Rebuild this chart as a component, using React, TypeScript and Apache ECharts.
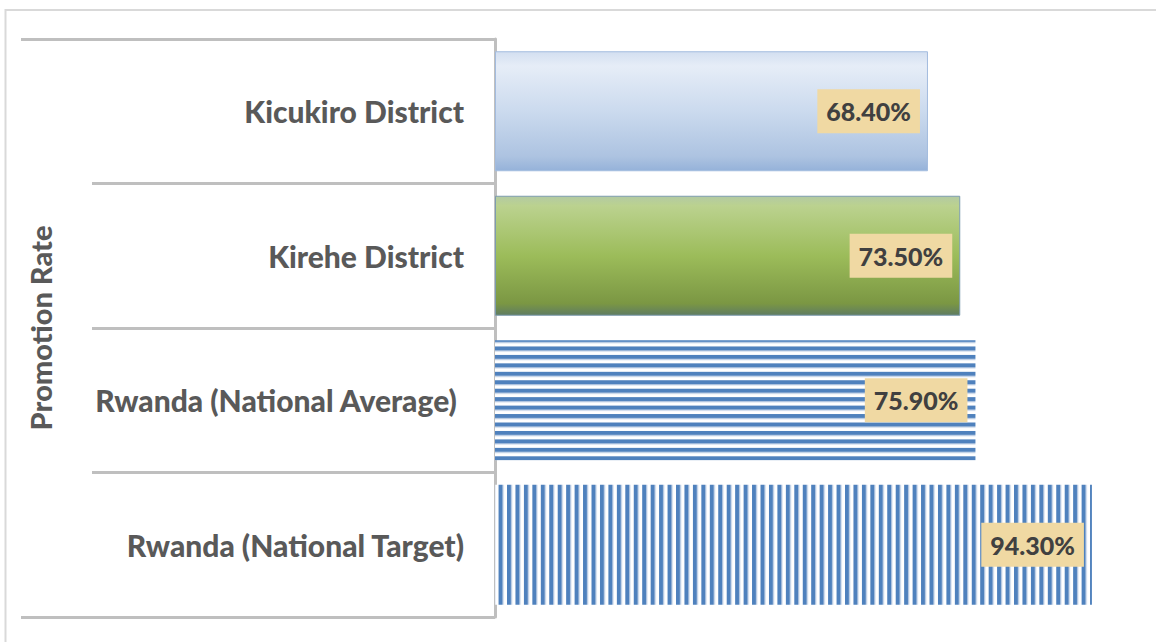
import React, { useEffect, useRef } from "react";
import * as echarts from "echarts";

const categories = [
  "Kicukiro District",
  "Kirehe District",
  "Rwanda (National Average) ",
  "Rwanda (National Target)",
];
const values = [68.4, 73.5, 75.9, 94.3];
const groupLabels = ["Promotion Rate"];
const axisTitle = "Promotion Rate";

const FONT = "Lato, 'Open Sans', sans-serif";

function stripe(dir: "h" | "v") {
  const p = 8.45;
  const b = 4.2;
  const svg =
    dir === "h"
      ? `<svg xmlns='http://www.w3.org/2000/svg' width='20' height='${p}'><rect width='20' height='${p}' fill='#ffffff'/><rect y='0' width='20' height='${b}' fill='#4f81bd'/><rect y='${b}' width='20' height='0.8' fill='#a9c0de'/></svg>`
      : `<svg xmlns='http://www.w3.org/2000/svg' width='${p}' height='20'><rect width='${p}' height='20' fill='#ffffff'/><rect x='0' width='${b}' height='20' fill='#4f81bd'/><rect x='${b}' width='0.8' height='20' fill='#a9c0de'/></svg>`;
  return {
    image: "data:image/svg+xml;charset=utf-8," + encodeURIComponent(svg),
    repeat: "repeat",
    imageWidth: dir === "h" ? 20 : p,
    imageHeight: dir === "h" ? p : 20,
  } as any;
}

export default function App() {
  const ref = useRef<HTMLDivElement>(null);
  useEffect(() => {
    if (!ref.current) return;
    const chart = echarts.init(ref.current, undefined, { renderer: "svg" });
    const styles = [
      {
        color: new echarts.graphic.LinearGradient(0, 0, 0, 1, [
          { offset: 0, color: "#d3dff0" },
          { offset: 0.12, color: "#e6edf7" },
          { offset: 0.5, color: "#cbdaee" },
          { offset: 0.88, color: "#adc3e1" },
          { offset: 1, color: "#95b2d9" },
        ]),
        borderColor: "#a3bcdf",
        borderWidth: 1,
      },
      {
        color: new echarts.graphic.LinearGradient(0, 0, 0, 1, [
          { offset: 0, color: "#b3caa3" },
          { offset: 0.08, color: "#bbd28f" },
          { offset: 0.5, color: "#9cbc5a" },
          { offset: 0.9, color: "#7b9743" },
          { offset: 1, color: "#5f7c62" },
        ]),
        borderColor: "#7d9cae",
        borderWidth: 1,
      },
      { color: stripe("h") },
      { color: stripe("v") },
    ];
    const option: any = {
      animation: false,
      backgroundColor: "#ffffff",
      graphic: [
        {
          type: "rect",
          shape: { x: 5.5, y: 10, width: 1200, height: 700 },
          style: { fill: "none", stroke: "#d9d9d9", lineWidth: 2 },
          silent: true,
        },
      ],
      grid: { left: 495, top: 39, width: 633, height: 578 },
      xAxis: {
        type: "value",
        min: 0,
        max: 100,
        show: false,
      },
      yAxis: [
        {
          type: "category",
          data: categories,
          inverse: true,
          position: "left",
          axisLine: { show: true, lineStyle: { color: "#bfbfbf", width: 3 } },
          axisTick: {
            show: true,
            length: 403,
            lineStyle: { color: "#bfbfbf", width: 3 },
          },
          axisLabel: {
            margin: 31,
            fontFamily: FONT,
            fontWeight: 900,
            fontSize: 30,
            color: "#595959",
          },
          splitLine: { show: false },
        },
        {
          type: "category",
          data: groupLabels,
          position: "left",
          axisLine: { show: false },
          axisTick: {
            show: true,
            length: 474,
            lineStyle: { color: "#bfbfbf", width: 3 },
          },
          axisLabel: { show: false },
          name: axisTitle,
          nameLocation: "middle",
          nameRotate: 90,
          nameGap: 440,
          nameTextStyle: {
            fontFamily: FONT,
            fontWeight: 900,
            fontSize: 29,
            color: "#595959",
          },
        },
      ],
      series: [
        {
          type: "bar",
          yAxisIndex: 0,
          barWidth: 120,
          data: values.map((v, i) => ({ value: v, itemStyle: styles[i] })),
          label: {
            show: true,
            position: "insideRight",
            distance: 8,
            formatter: (p: any) => p.value.toFixed(2) + "%",
            backgroundColor: "#f0d9a3",
            padding: [8, 9, 6, 9],
            lineHeight: 30,
            fontFamily: FONT,
            fontWeight: 900,
            fontSize: 25,
            color: "#404040",
          },
        },
      ],
    };
    chart.setOption(option);
    return () => chart.dispose();
  }, []);
  return (
    <div
      ref={ref}
      style={{ position: "fixed", left: 0, top: 0, width: 1156, height: 642, background: "#fff" }}
    />
  );
}
